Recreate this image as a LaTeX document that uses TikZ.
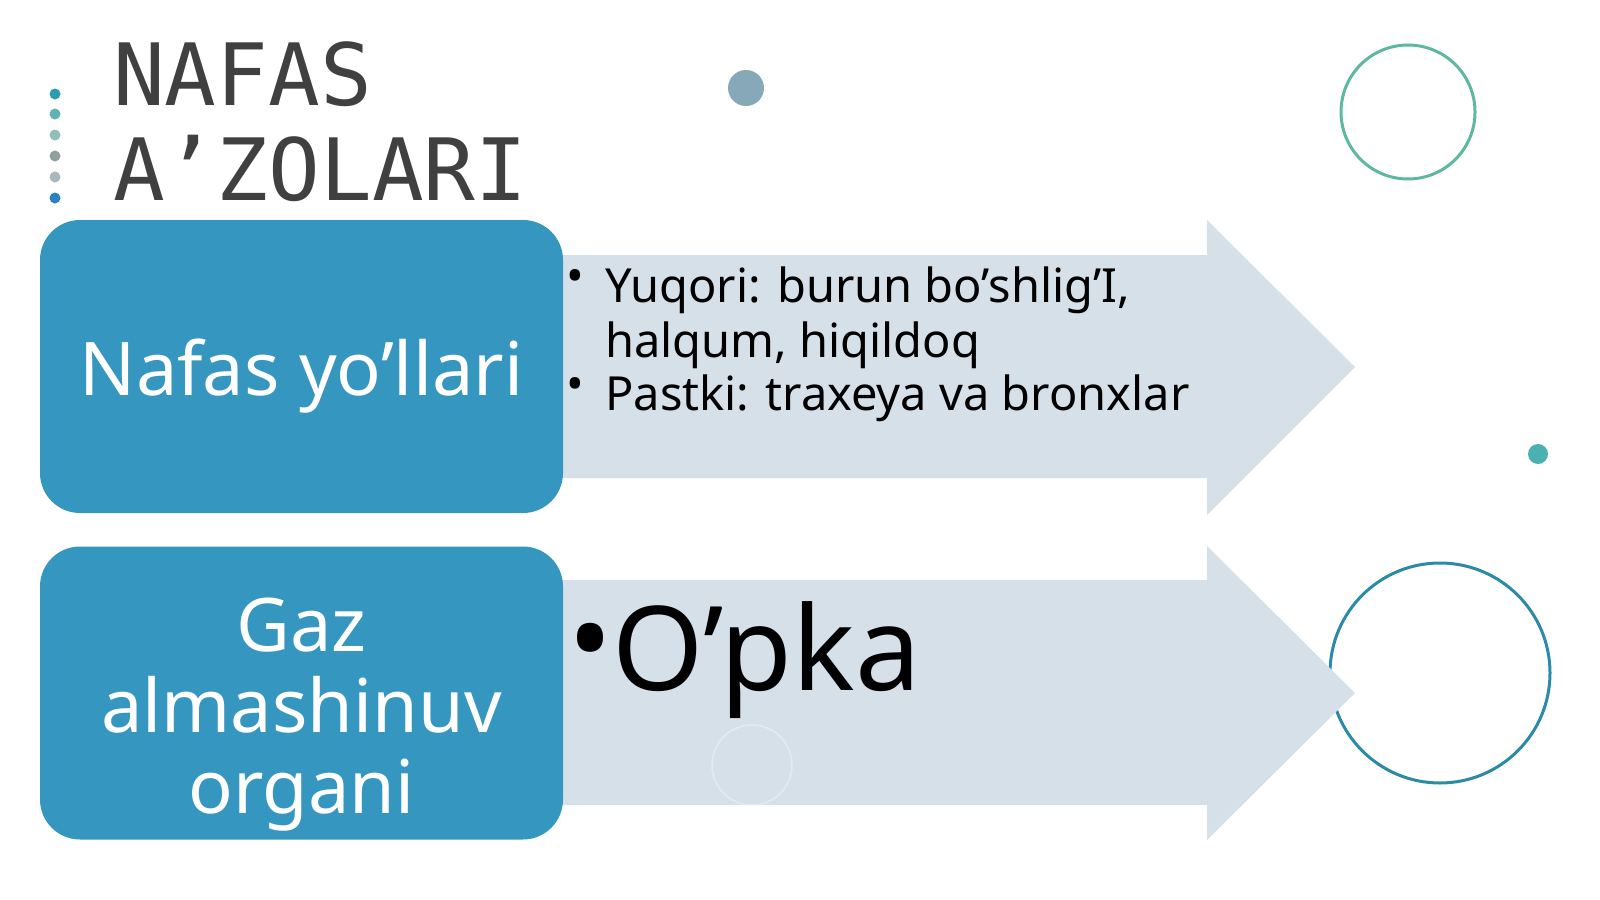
\documentclass[tikz,border=0pt]{standalone}
\usepackage{fontspec}
\setmainfont{Noto Sans}
\newfontfamily\titlefont{DejaVu Sans Mono}
\usetikzlibrary{
    positioning,      % For placing nodes relative to each other
    calc              % For coordinate calculations
}
\definecolor{boxblue}{HTML}{3596BF}
\definecolor{arrowgrey}{HTML}{D5E0E8}
\definecolor{titlegrey}{HTML}{404040}
\definecolor{ringgreen}{HTML}{5CB8A0}
\definecolor{ringblue}{HTML}{2A8AA8}

\begin{document}
\begin{tikzpicture}[
    x=1pt, y=-1pt,
    % Global style settings
    box_style/.style={
        fill=boxblue,
        rounded corners=40pt,
        minimum width=523pt,
        minimum height=293pt,
        inner sep=0pt
    },
    box_text/.style={
        text=white,
        align=center,
        anchor=base,
        inner sep=0pt,
        font=\fontsize{74}{81}\selectfont
    },
    arrow_style/.style={
        fill=arrowgrey
    },
    title_style/.style={
        text=titlegrey,
        font=\titlefont\fontsize{86}{95}\selectfont,
        anchor=base west,
        inner sep=0pt
    },
    item_style/.style={
        font=\fontsize{47}{55}\selectfont,
        anchor=base west,
        inner sep=0pt
    },
    ring_style/.style={
        line width=3pt
    }
]
    \useasboundingbox (0,0) rectangle (1600,899);

    % 1. Decorations in the background.
    \foreach \y/\c in {94/2A9DB0, 114/5FB3B0, 135/8FC0B8, 156/8FA0A0, 177/A8B8BC, 198/2A80C0} {
        \definecolor{dotc}{HTML}{\c}
        \fill[dotc] (55,\y) circle (5.5);
    }
    \fill[fill={rgb,255:red,134;green,168;blue,184}] (746,88) circle (18);
    \fill[fill={rgb,255:red,74;green,176;blue,176}] (1538,454) circle (10);
    \draw[ring_style, ringgreen] (1408,112) circle (67);
    \draw[ring_style, ringblue] (1440,673) circle (110);

    % 2. Title.
    \node[title_style] (title_top) at (113,105) {NAFAS};
    \node[title_style] (title_bottom) at (113,200) {A’ZOLARI};

    % 3. The two arrows behind the boxes.
    \fill[arrow_style] (500,255) -- (1207,255) -- (1207,220) -- (1355,367)
        -- (1207,515) -- (1207,478) -- (500,478) -- cycle;
    \fill[arrow_style] (500,580) -- (1207,580) -- (1207,546) -- (1355,693)
        -- (1207,840) -- (1207,805) -- (500,805) -- cycle;
    \draw[white, opacity=0.35, line width=1.5pt] (752,765) circle (40);

    % 4. The blue boxes and their texts.
    \node[box_style] (airways) at (301.5,366.5) {};
    \node[box_style] (exchange) at (301.5,693) {};
    \node[box_text] (airways_text) at ($(airways.center)+(0,28.5)$) {Nafas yo’llari};
    \node[box_text] (exchange_text) at ($(exchange.center)+(0,120)$) {Gaz\\almashinuv\\organi};

    % 5. The bullet texts in the arrows.
    \node[item_style] (upper_dot) at (566,292) {•};
    \node[item_style] (upper_a) at (605,302) {Yuqori: burun bo’shlig’I,};
    \node[item_style] (upper_b) at (605,357) {halqum, hiqildoq};
    \node[item_style] (lower_dot) at (566,400) {•};
    \node[item_style] (lower) at (605,410) {Pastki: traxeya va bronxlar};
    \node[item_style, font=\fontsize{117}{130}\selectfont] (lung_dot) at (568,680) {•};
    \node[item_style, font=\fontsize{117}{130}\selectfont] (lung) at (612,690) {O’pka};
\end{tikzpicture}
\end{document}
